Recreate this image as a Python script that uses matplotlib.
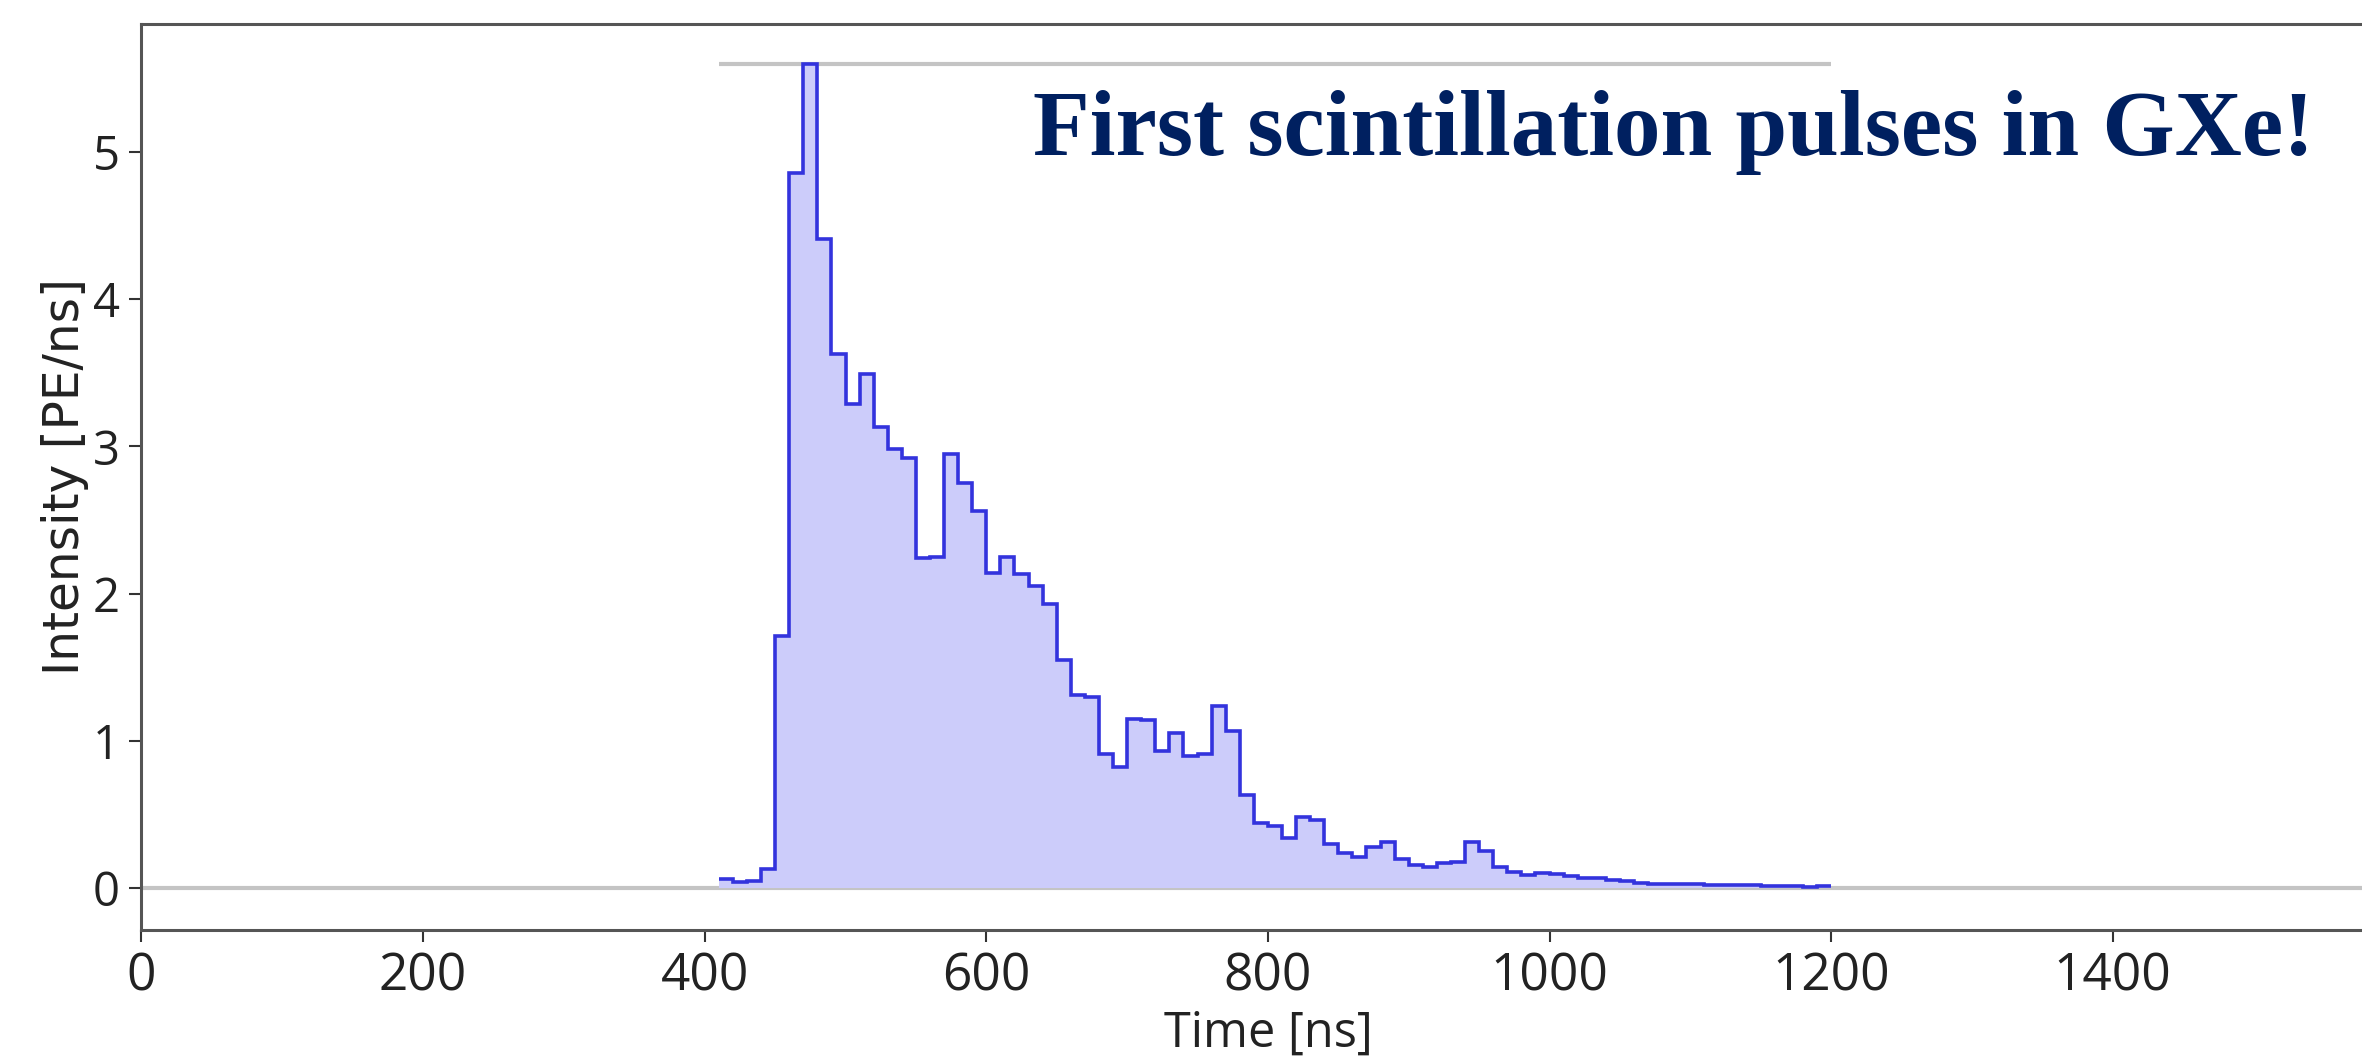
import matplotlib
matplotlib.use("Agg")
import matplotlib.pyplot as plt
import numpy as np

# Pulse waveform: 10 ns bins from 410 ns to 1200 ns
bin_start = 410
bin_width = 10
intensity = [
    0.06, 0.04, 0.05, 0.13, 1.71, 4.86, 5.60, 4.41, 3.63, 3.29,
    3.49, 3.13, 2.98, 2.92, 2.24, 2.25, 2.95, 2.75, 2.56, 2.14,
    2.25, 2.13, 2.05, 1.93, 1.55, 1.31, 1.30, 0.91, 0.82, 1.15,
    1.14, 0.93, 1.05, 0.90, 0.91, 1.24, 1.07, 0.63, 0.44, 0.42,
    0.34, 0.48, 0.46, 0.30, 0.24, 0.21, 0.28, 0.31, 0.20, 0.16,
    0.145, 0.17, 0.18, 0.31, 0.25, 0.14, 0.11, 0.09, 0.10, 0.095,
    0.08, 0.066, 0.066, 0.054, 0.048, 0.032, 0.030, 0.028, 0.026, 0.025,
    0.023, 0.022, 0.020, 0.018, 0.016, 0.014, 0.012, 0.010, 0.015,
]
x_ticks = [0, 200, 400, 600, 800, 1000, 1200, 1400]
y_ticks = [0, 1, 2, 3, 4, 5]
title_text = "First scintillation pulses in GXe!"
x_label = "Time [ns]"
y_label = "Intensity [PE/ns]"

edges = bin_start + bin_width * np.arange(len(intensity) + 1)
values = np.array(intensity)

tick_font = ["Open Sans", "DejaVu Sans"]
text_color = "#222222"

fig = plt.figure(figsize=(23.62, 10.59), dpi=100)
# the axes run slightly past the right edge of the canvas
ax = fig.add_axes([0.0599, 0.1218, 0.9538, 0.8559])

line_color = "#3333dd"
fill_color = "#ccccfa"

# baseline and peak reference lines
ax.axhline(0, color="#c4c4c4", lw=3, zorder=1)
ax.hlines(values.max(), edges[0], edges[-1], color="#c4c4c4", lw=3, zorder=1)

ax.stairs(values, edges, fill=True, baseline=0, color=fill_color, lw=0, zorder=2)
ax.stairs(values, edges, baseline=None, color=line_color, lw=2.6, zorder=3)

ax.set_xlim(0, 1600)
ax.set_ylim(-0.285, 5.872)
ax.set_xticks(x_ticks)
ax.set_yticks(y_ticks)

for s in ["left", "bottom", "top", "right"]:
    ax.spines[s].set_color("#555555")
    ax.spines[s].set_linewidth(2.2)

ax.tick_params(axis="both", direction="out", length=8.6, width=1.5, color="#333333",
               labelcolor=text_color)
ax.tick_params(axis="y", labelsize=34, pad=7)
ax.tick_params(axis="x", labelsize=37, pad=7)
for lab in ax.get_xticklabels() + ax.get_yticklabels():
    lab.set_fontfamily(tick_font)

ax.set_xlabel(x_label, fontsize=35, family=tick_font, color=text_color, labelpad=5)
ax.set_ylabel(y_label, fontsize=35, family=["DejaVu Sans"], color=text_color, labelpad=3)

fig.text(1033 / 2362, 1 - 155 / 1059, title_text, fontsize=67, fontweight="bold",
         family=["Liberation Serif", "DejaVu Serif"], color="#002060",
         ha="left", va="baseline")

fig.savefig("out.png", dpi=100)
